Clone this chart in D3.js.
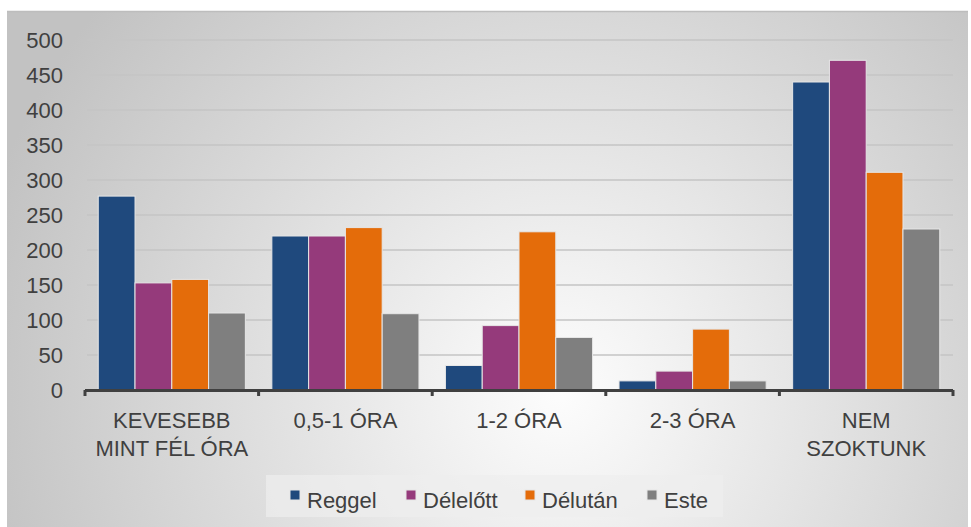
<!DOCTYPE html>
<html lang="hu">
<head>
  <meta charset="UTF-8">
  <title>Bar chart</title>
  <style>
    body { margin: 0; background: #fff; }
    text { font-family: "Liberation Sans", Arial, sans-serif; fill: #404040; }
  </style>
</head>
<body>
  <script src="https://d3js.org/d3.v7.min.js"></script>
  <script>
    const categories = [["KEVESEBB", "MINT FÉL ÓRA"], ["0,5-1 ÓRA"], ["1-2 ÓRA"], ["2-3 ÓRA"], ["NEM", "SZOKTUNK"]];
    const seriesNames = ["Reggel", "Délelőtt", "Délután", "Este"];
    const reggel = [277, 220, 35, 13, 440];
    const delelott = [153, 220, 92, 27, 471];
    const delutan = [158, 232, 226, 87, 311];
    const este = [110, 109, 75, 13, 230];
    const yTicks = [0, 50, 100, 150, 200, 250, 300, 350, 400, 450, 500];
    const colors = ["#1F497D", "#953A7B", "#E46C0A", "#7F7F7F"];

    const series = [reggel, delelott, delutan, este];
    const width = 971, height = 527;
    const plot = { left: 85, right: 953, top: 40, bottom: 390 };

    const svg = d3.select('body')
      .append('svg')
      .attr('width', width)
      .attr('height', height);

    const defs = svg.append('defs');
    const grad = defs.append('radialGradient')
      .attr('id', 'bg')
      .attr('gradientUnits', 'userSpaceOnUse')
      .attr('cx', 560).attr('cy', 390).attr('r', 600);
    grad.append('stop').attr('offset', '0').attr('stop-color', '#fdfdfd');
    grad.append('stop').attr('offset', '1').attr('stop-color', '#c2c2c2');

    // panel
    svg.append('rect')
      .attr('x', 7).attr('y', 11)
      .attr('width', 961).attr('height', height - 11)
      .attr('fill', 'url(#bg)');
    svg.append('line')
      .attr('x1', 7).attr('x2', 968).attr('y1', 11.5).attr('y2', 11.5)
      .attr('stroke', '#bdbdbd').attr('stroke-width', 1.5);

    const catIdx = categories.map((d, i) => i);
    const x0 = d3.scaleBand()
      .domain(catIdx)
      .range([plot.left, plot.right])
      .padding(0);

    const x1 = d3.scaleBand()
      .domain(seriesNames)
      .range([0, x0.bandwidth()])
      .paddingInner(0)
      .paddingOuter(0.36);

    const y = d3.scaleLinear()
      .domain([0, 500])
      .range([plot.bottom, plot.top]);

    // gridlines
    svg.append('g')
      .selectAll('line')
      .data(yTicks.filter(d => d > 0))
      .join('line')
      .attr('x1', plot.left + 2).attr('x2', plot.right)
      .attr('y1', d => y(d)).attr('y2', d => y(d))
      .attr('stroke', '#c4c4c4').attr('stroke-width', 1.5);

    // y labels
    svg.append('g')
      .selectAll('text')
      .data(yTicks)
      .join('text')
      .attr('x', 63)
      .attr('y', d => y(d) + 8)
      .attr('text-anchor', 'end')
      .style('font-size', '22px')
      .text(d => d);

    // bars
    const groups = svg.append('g')
      .selectAll('g')
      .data(catIdx)
      .join('g')
      .attr('transform', i => `translate(${x0(i)},0)`);

    groups.selectAll('rect')
      .data(i => series.map((s, j) => ({ name: seriesNames[j], value: s[i], color: colors[j] })))
      .join('rect')
      .attr('x', d => x1(d.name))
      .attr('y', d => y(d.value))
      .attr('width', x1.bandwidth())
      .attr('height', d => y(0) - y(d.value))
      .attr('fill', d => d.color)
      .attr('stroke', '#e6e6e6')
      .attr('stroke-width', 1);

    // x axis
    svg.append('line')
      .attr('x1', plot.left).attr('x2', plot.right)
      .attr('y1', plot.bottom + 0.5).attr('y2', plot.bottom + 0.5)
      .attr('stroke', '#404040').attr('stroke-width', 3);
    svg.append('g')
      .selectAll('line')
      .data(catIdx.concat([categories.length]))
      .join('line')
      .attr('x1', i => i < categories.length ? x0(i) : plot.right)
      .attr('x2', i => i < categories.length ? x0(i) : plot.right)
      .attr('y1', plot.bottom).attr('y2', plot.bottom + 6)
      .attr('stroke', '#404040').attr('stroke-width', 3);

    // category labels
    const catLabels = svg.append('g')
      .selectAll('text')
      .data(catIdx)
      .join('text')
      .attr('text-anchor', 'middle')
      .style('font-size', '22px');
    catLabels.selectAll('tspan')
      .data(i => categories[i].map(t => ({ t, i })))
      .join('tspan')
      .attr('x', d => x0(d.i) + x0.bandwidth() / 2)
      .attr('y', (d, k) => 428 + k * 28)
      .text(d => d.t);

    // legend
    svg.append('rect')
      .attr('x', 266).attr('y', 475)
      .attr('width', 457).attr('height', 42)
      .attr('fill', '#eeeeee').attr('opacity', 0.7);

    const legendX = [290, 406, 525, 647];
    const legend = svg.append('g')
      .selectAll('g')
      .data(seriesNames)
      .join('g')
      .attr('transform', (d, i) => `translate(${legendX[i]},0)`);
    legend.append('rect')
      .attr('x', 0).attr('y', 490)
      .attr('width', 10).attr('height', 10)
      .attr('fill', (d, i) => colors[i])
      .attr('stroke', '#e6e6e6').attr('stroke-width', 1);
    legend.append('text')
      .attr('x', 17).attr('y', 508)
      .style('font-size', '22px')
      .text(d => d);
  </script>
</body>
</html>
